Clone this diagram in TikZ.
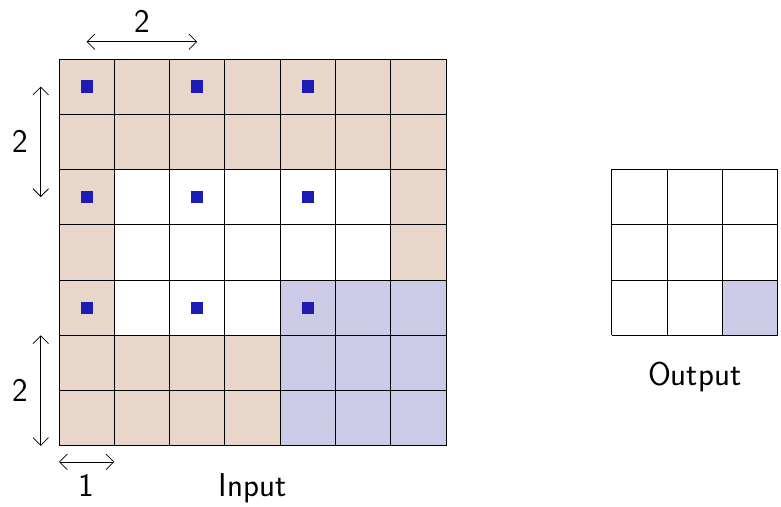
\documentclass[tikz,border=0pt]{standalone}
\definecolor{cwPad}{RGB}{233,214,203}
\definecolor{cwWin}{RGB}{203,203,232}
\definecolor{cwDot}{RGB}{28,28,180}
\usepackage{tikz}
\usetikzlibrary{positioning}
\usetikzlibrary{arrows.meta}
\begin{document}
\begin{tikzpicture}[x=1cm, y=1cm, font=\sffamily\fontsize{17}{20}\selectfont,
    dot/.style={fill=cwDot, inner sep=0pt, minimum size=0.22cm},
    gap/.style={{Straight Barb[length=4pt,width=8pt]}-{Straight Barb[length=4pt,width=8pt]}}]
    \useasboundingbox (-1.067,-1.103) rectangle (13.06,8.065);

    % Input (padded, 7x7)
    \fill[cwPad] (0,0) rectangle (7,7);
    \fill[white] (1,3) rectangle (6,5);
    \fill[white] (1,2) rectangle (4,3);
    \fill[cwWin] (4,0) rectangle (7,3);
    \draw (0,0) grid (7,7);
    \node (input) at (3.5,-0.76) {Input};

    % Sampled positions
    \foreach \i in {0,2,4}
        \foreach \j in {0,2,4}
            \node[dot] (d\i\j) at (\i+0.5, 6.5-\j) {};

    % Stride and padding marks
    \coordinate (sxa) at (0.5,7.31);
    \coordinate (sxb) at (2.5,7.31);
    \draw[gap] (sxa) -- (sxb);
    \node (sxl) at (1.5,7.68) {2};

    \coordinate (sya) at (-0.33,6.5);
    \coordinate (syb) at (-0.33,4.5);
    \draw[gap] (sya) -- (syb);
    \node (syl) at (-0.7,5.5) {2};

    \coordinate (kya) at (-0.33,2);
    \coordinate (kyb) at (-0.33,0);
    \draw[gap] (kya) -- (kyb);
    \node (kyl) at (-0.7,1) {2};

    \coordinate (pxa) at (0,-0.29);
    \coordinate (pxb) at (1,-0.29);
    \draw[gap] (pxa) -- (pxb);
    \node (pxl) at (0.5,-0.72) {1};

    % Output (3x3)
    \fill[cwWin] (12,2) rectangle (13,3);
    \draw (10,2) grid (13,5);
    \node (output) at (11.5,1.25) {Output};
\end{tikzpicture}
\end{document}
